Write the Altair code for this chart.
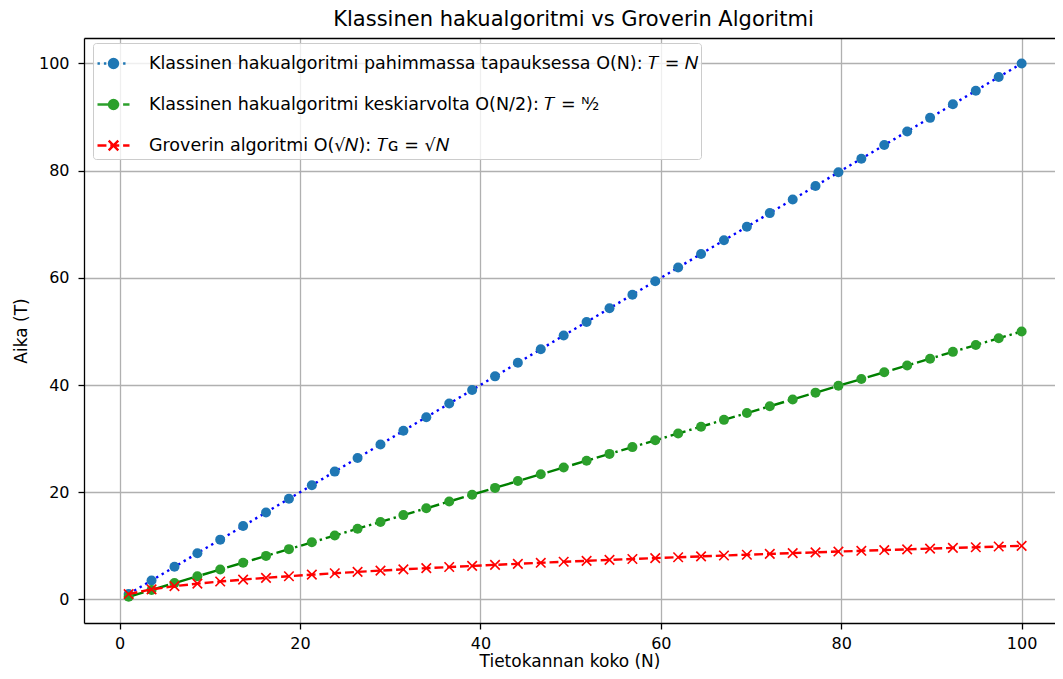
import altair as alt
import pandas as pd

# Database size N (40 sample points)
N = [1.00, 3.54, 6.08, 8.62, 11.15, 13.69, 16.23, 18.77, 21.31, 23.85,
     26.38, 28.92, 31.46, 34.00, 36.54, 39.08, 41.62, 44.15, 46.69, 49.23,
     51.77, 54.31, 56.85, 59.38, 61.92, 64.46, 67.00, 69.54, 72.08, 74.62,
     77.15, 79.69, 82.23, 84.77, 87.31, 89.85, 92.38, 94.92, 97.46, 100.00]
# Classical worst case T = N
T_worst = [1.00, 3.54, 6.08, 8.62, 11.15, 13.69, 16.23, 18.77, 21.31, 23.85,
           26.38, 28.92, 31.46, 34.00, 36.54, 39.08, 41.62, 44.15, 46.69, 49.23,
           51.77, 54.31, 56.85, 59.38, 61.92, 64.46, 67.00, 69.54, 72.08, 74.62,
           77.15, 79.69, 82.23, 84.77, 87.31, 89.85, 92.38, 94.92, 97.46, 100.00]
# Classical average T = N/2
T_avg = [0.50, 1.77, 3.04, 4.31, 5.58, 6.85, 8.12, 9.38, 10.65, 11.92,
         13.19, 14.46, 15.73, 17.00, 18.27, 19.54, 20.81, 22.08, 23.35, 24.62,
         25.88, 27.15, 28.42, 29.69, 30.96, 32.23, 33.50, 34.77, 36.04, 37.31,
         38.58, 39.85, 41.12, 42.38, 43.65, 44.92, 46.19, 47.46, 48.73, 50.00]
# Grover T = sqrt(N)
T_grover = [1.00, 1.88, 2.47, 2.94, 3.34, 3.70, 4.03, 4.33, 4.62, 4.88,
            5.14, 5.38, 5.61, 5.83, 6.04, 6.25, 6.45, 6.64, 6.83, 7.02,
            7.20, 7.37, 7.54, 7.71, 7.87, 8.03, 8.19, 8.34, 8.49, 8.64,
            8.78, 8.93, 9.07, 9.21, 9.34, 9.48, 9.61, 9.74, 9.87, 10.00]

series_labels = [
    "Klassinen hakualgoritmi pahimmassa tapauksessa O(N): 𝑇 = 𝑁",
    "Klassinen hakualgoritmi keskiarvolta O(N/2): 𝑇 = ᴺ⁄₂",
    "Groverin algoritmi O(√𝑁): 𝑇ɢ = √𝑁",
]
tick_values = [0, 20, 40, 60, 80, 100]

df = pd.DataFrame({"N": N, "worst": T_worst, "avg": T_avg, "grover": T_grover})

FONT = "DejaVu Sans"
xscale = alt.Scale(domain=[-3.95, 103.7], nice=False, zero=False)
yscale = alt.Scale(domain=[-4.4, 104.75], nice=False, zero=False)

x_bottom = alt.Axis(values=tick_values, format="d", title="Tietokannan koko (N)",
                    grid=True, orient="bottom", titlePadding=2)
x_top = alt.Axis(orient="top", labels=False, ticks=False, grid=False, title=None,
                 domain=True)
y_axis = alt.Axis(values=tick_values, format="d", title="Aika (T)", grid=True,
                  titlePadding=8)


def xenc(axis):
    return alt.X("N:Q", scale=xscale, axis=axis)


def yenc(col):
    return alt.Y(f"{col}:Q", scale=yscale, axis=y_axis)


lw = 2.4
blue_line = alt.Chart(df).mark_line(color="#0000ff", strokeDash=[2.4, 4.0],
                                    strokeWidth=lw).encode(x=xenc(x_bottom), y=yenc("worst"))
blue_pts = alt.Chart(df).mark_circle(color="#1f77b4", size=100, opacity=1).encode(
    x=xenc(x_top), y=yenc("worst"))
green_line = alt.Chart(df).mark_line(color="#008000", strokeDash=[15.5, 3.9, 2.4, 3.9],
                                     strokeWidth=lw).encode(x=xenc(None), y=yenc("avg"))
green_pts = alt.Chart(df).mark_circle(color="#2ca02c", size=100, opacity=1).encode(
    x=xenc(None), y=yenc("avg"))
red_line = alt.Chart(df).mark_line(color="#ff0000", strokeDash=[8.9, 3.9],
                                   strokeWidth=lw).encode(x=xenc(None), y=yenc("grover"))
red_pts = alt.Chart(df).mark_point(shape="M-1,-1L1,1M-1,1L1,-1", color="#ff0000",
                                   size=90, strokeWidth=1.6, filled=False,
                                   opacity=1).encode(x=xenc(None), y=yenc("grover"))

# Legend symbols: line segment pattern + marker, as custom paths
circ = "M0.28,0A0.28,0.28 0 1,1 -0.28,0A0.28,0.28 0 1,1 0.28,0Z"
sym_blue = ("M-1,0L-0.85,0M-0.6,0L-0.45,0M-0.2,0L-0.05,0M0.2,0L0.35,0"
            "M0.6,0L0.75,0" + circ)
sym_green = "M-1,0L-0.03,0M0.21,0L0.36,0M0.6,0L1,0" + circ
sym_red = ("M-1,0L-0.44,0M-0.2,0L0.36,0M0.6,0L1,0"
           "M-0.3,-0.3L0.3,0.3M-0.3,0.3L0.3,-0.3")

fills = ["#1f77b4", "#2ca02c", "#ff0000"]
strokes = ["#1f77b4", "#2ca02c", "#ff0000"]
paths = [sym_blue, sym_green, sym_red]

leg_df = pd.DataFrame({"series": series_labels, "N": [0, 0, 0], "v": [0, 0, 0]})
leg = alt.Legend(title=None)
legend_layer = alt.Chart(leg_df).mark_point(filled=True, opacity=1, strokeWidth=2.4).encode(
    x=xenc(None),
    y=alt.Y("v:Q", scale=yscale, axis=y_axis),
    fill=alt.Fill("series:N", scale=alt.Scale(domain=series_labels, range=fills), legend=leg),
    stroke=alt.Stroke("series:N", scale=alt.Scale(domain=series_labels, range=strokes), legend=leg),
    shape=alt.Shape("series:N", scale=alt.Scale(domain=series_labels, range=paths), legend=leg),
).transform_filter("datum.N > 1000")

chart = alt.layer(
    blue_line, blue_pts, green_line, green_pts, red_line, red_pts, legend_layer
).resolve_axis(x="independent").properties(
    width=971, height=585,
    title=alt.TitleParams("Klassinen hakualgoritmi vs Groverin Algoritmi",
                          font=FONT, fontSize=21, fontWeight="normal", color="black",
                          anchor="middle", offset=8, dx=4),
    autosize=alt.AutoSizeParams(type="none"),
    padding={"left": 76, "top": 30, "right": 0, "bottom": 48},
).configure_view(stroke=None).configure_axis(
    labelFont=FONT, labelFontSize=16, labelColor="black",
    titleFont=FONT, titleFontSize=17, titleFontWeight="normal", titleColor="black",
    tickColor="black", tickSize=6, tickWidth=1.3,
    domainColor="black", domainWidth=1.3,
    gridColor="#b0b0b0", gridWidth=1.3,
).configure_axisX(labelPadding=6).configure_axisY(labelPadding=9).configure_legend(
    orient="none", legendX=9, legendY=5,
    symbolSize=1024, symbolStrokeWidth=2.4,
    labelFont=FONT, labelFontSize=17.5, labelColor="black", labelLimit=0,
    labelOffset=18, padding=3, rowPadding=14,
    fillColor="rgba(255,255,255,0.8)", strokeColor="#cccccc", cornerRadius=3,
)

chart.save("out.html", embed_options={"renderer": "svg", "actions": False})
